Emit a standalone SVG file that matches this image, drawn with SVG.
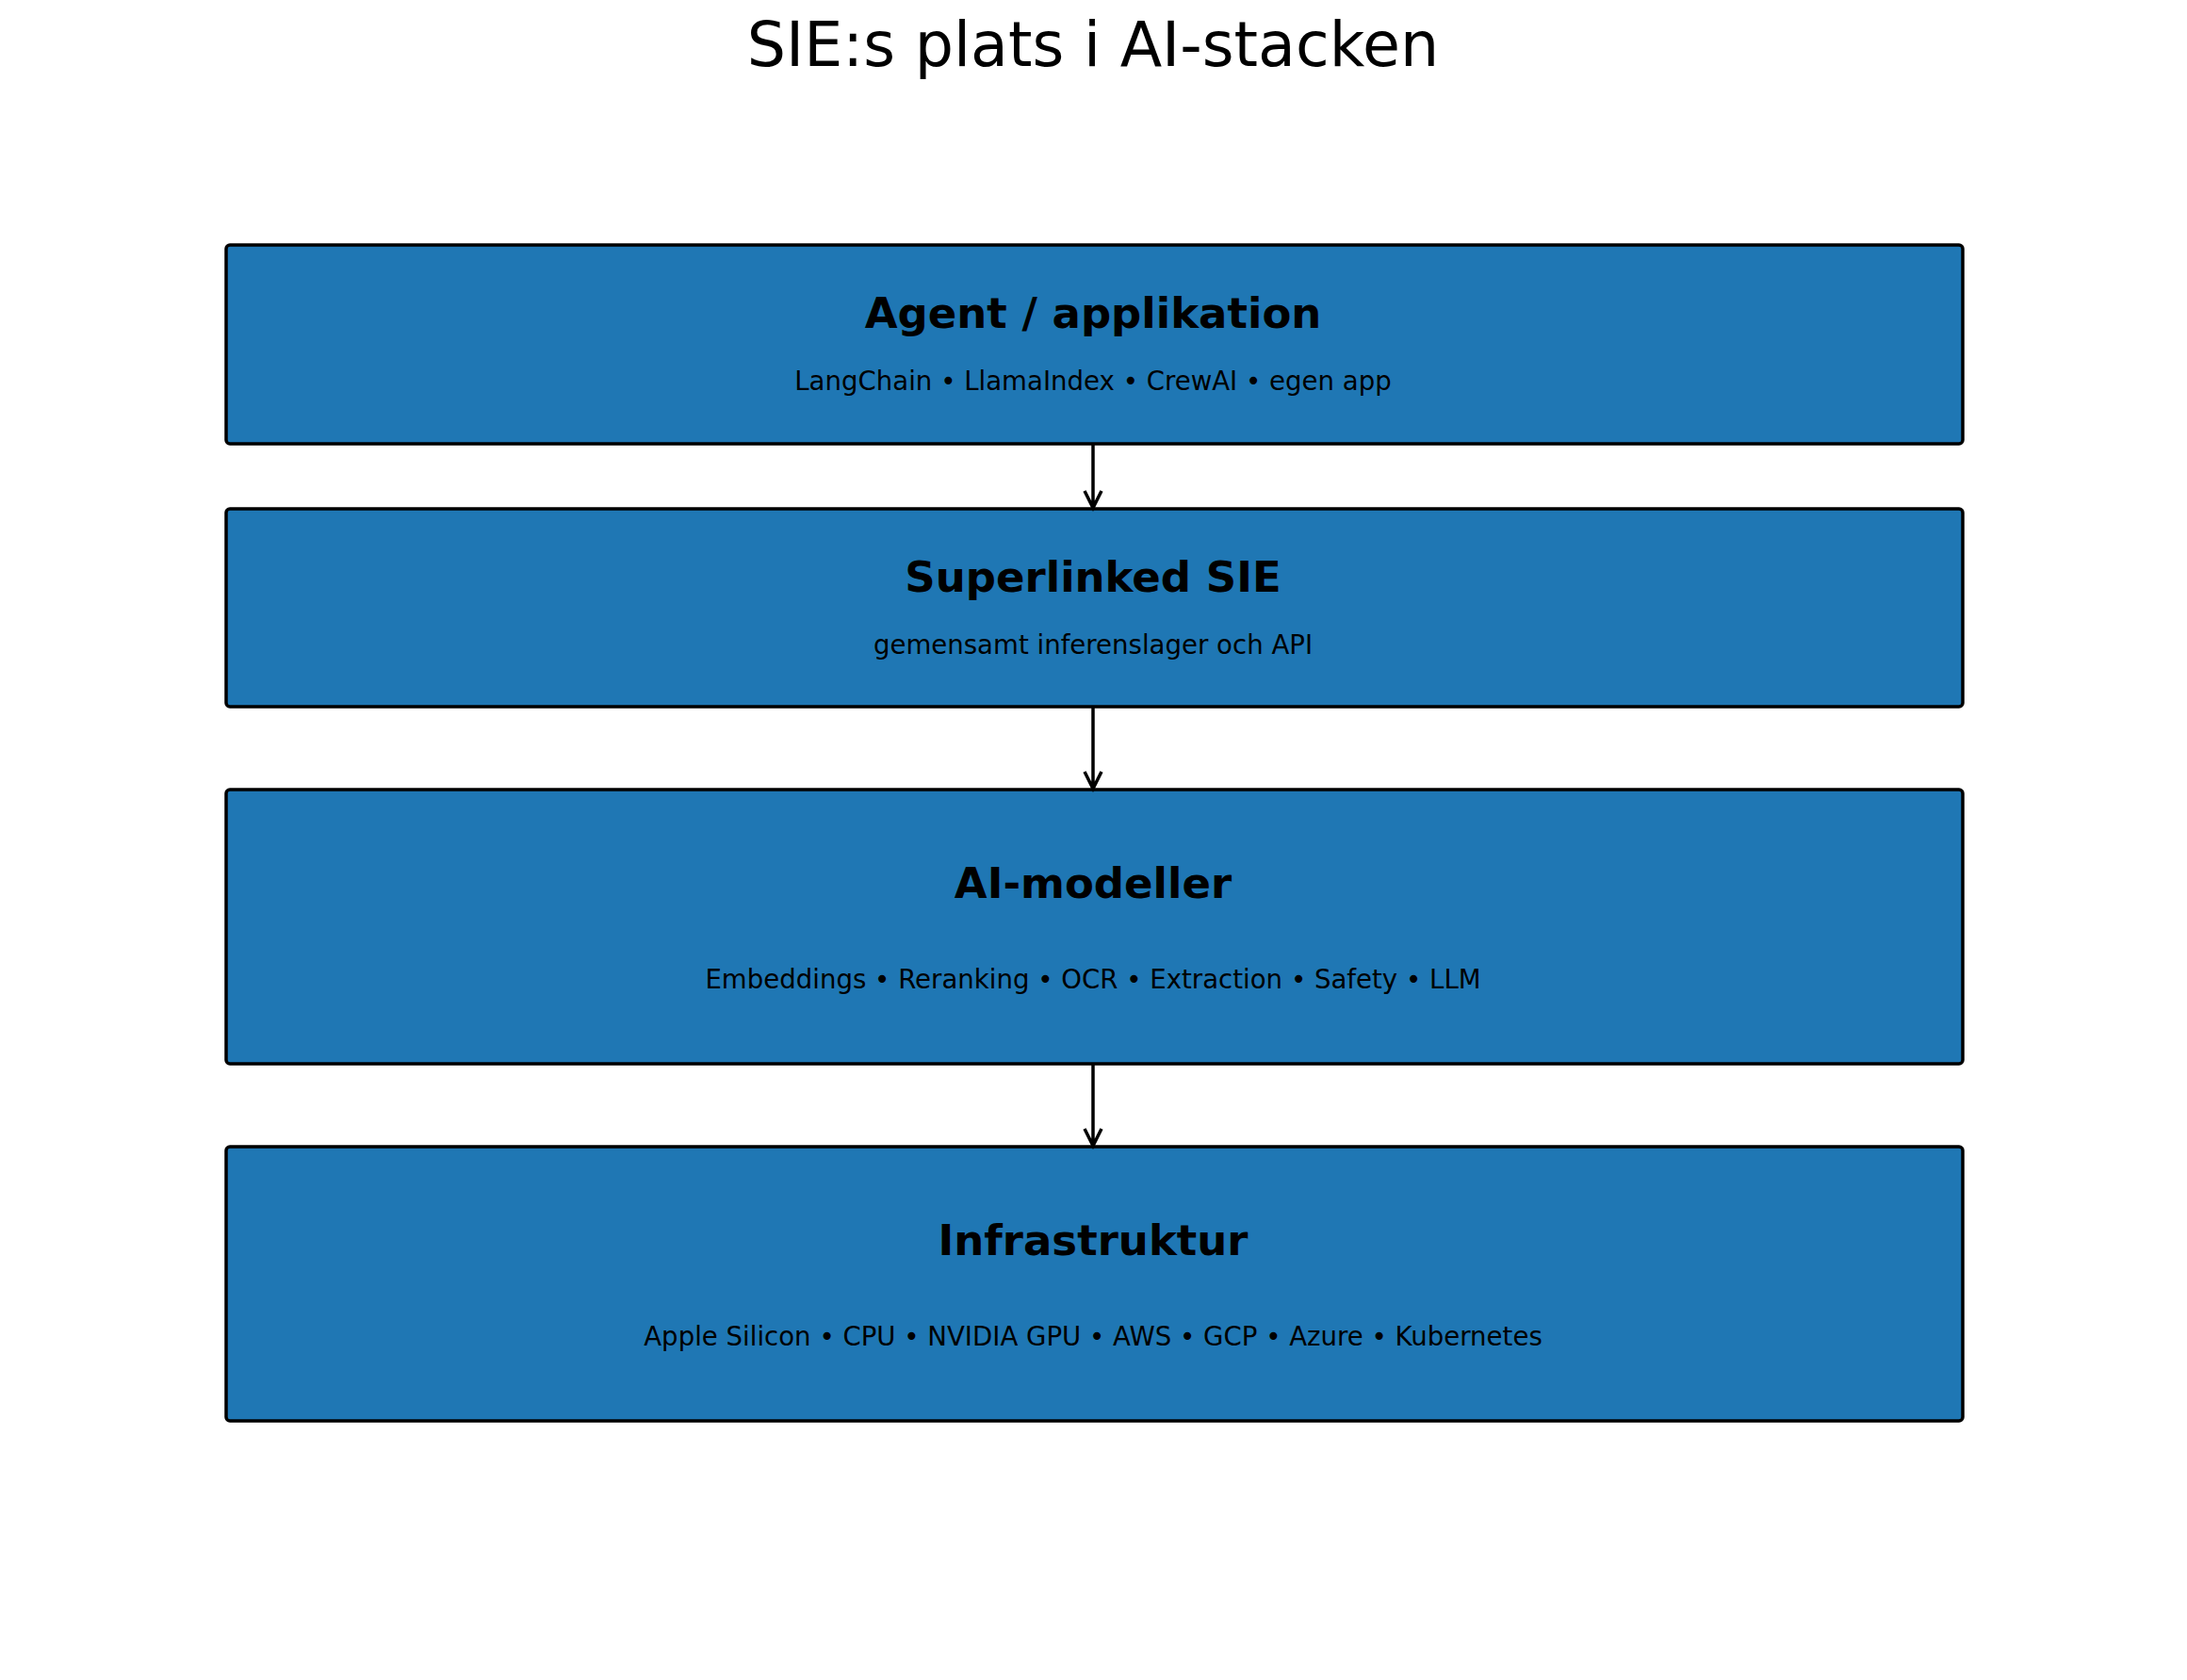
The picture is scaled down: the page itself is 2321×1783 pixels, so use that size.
<svg xmlns="http://www.w3.org/2000/svg" width="2321" height="1783" viewBox="0 0 2321 1783">
<style>
.box{fill:#1f77b4;stroke:#000;stroke-width:3.5}
.t{font-family:"DejaVu Sans",sans-serif;font-weight:bold;font-size:45px;text-anchor:middle;fill:#000}
.s{font-family:"DejaVu Sans",sans-serif;font-size:27.6px;text-anchor:middle;fill:#000}
.c{stroke:#000;stroke-width:3.5;fill:none}
</style>
<rect width="2321" height="1783" fill="#fff"/>
<text x="1160" y="70" font-family="DejaVu Sans,sans-serif" font-size="65" text-anchor="middle">SIE:s plats i AI-stacken</text>
<g id="agent"><rect class="box" x="240" y="260" width="1843" height="211" rx="4"/><text class="t" x="1160" y="348">Agent / applikation</text><text class="s" x="1160" y="414">LangChain • LlamaIndex • CrewAI • egen app</text></g>
<g id="sie"><rect class="box" x="240" y="540" width="1843" height="210" rx="4"/><text class="t" x="1160" y="628">Superlinked SIE</text><text class="s" x="1160" y="694">gemensamt inferenslager och API</text></g>
<g id="models"><rect class="box" x="240" y="838" width="1843" height="291" rx="4"/><text class="t" x="1160" y="953">AI-modeller</text><text class="s" x="1160" y="1049">Embeddings • Reranking • OCR • Extraction • Safety • LLM</text></g>
<g id="infra"><rect class="box" x="240" y="1217" width="1843" height="291" rx="4"/><text class="t" x="1160" y="1332">Infrastruktur</text><text class="s" x="1160" y="1428">Apple Silicon • CPU • NVIDIA GPU • AWS • GCP • Azure • Kubernetes</text></g>
<g id="connectors" class="c">
<path d="M1160 471V539M1151 521L1160 539L1169 521"/>
<path d="M1160 750V837M1151 819L1160 837L1169 819"/>
<path d="M1160 1129V1216M1151 1198L1160 1216L1169 1198"/>
</g>
</svg>
